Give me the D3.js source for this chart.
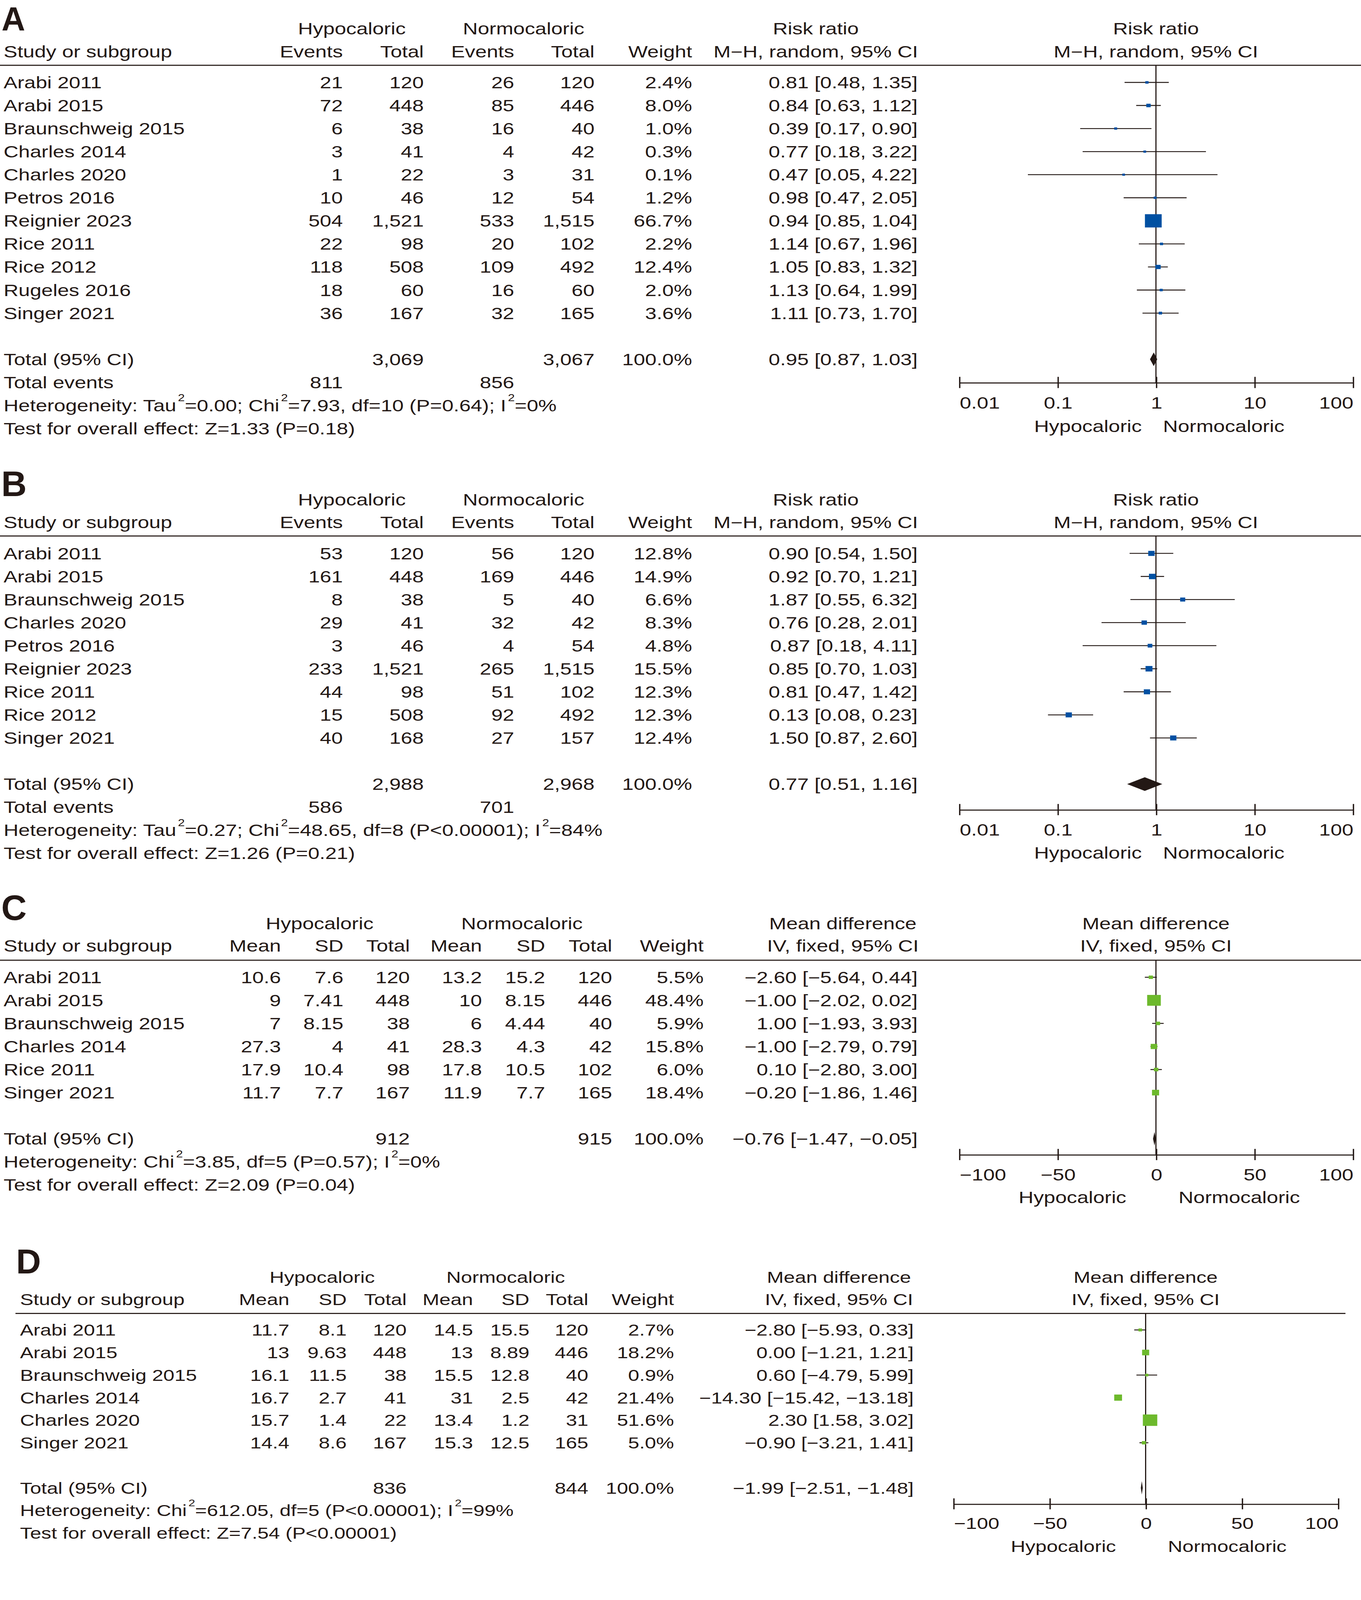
<!DOCTYPE html>
<html><head><meta charset="utf-8">
<script src="https://cdn.jsdelivr.net/npm/d3@7"></script>
<style>html,body{margin:0;padding:0;background:#fff;overflow:hidden}svg{display:block;width:100vw;height:100vh}</style>
</head><body>
<svg id="chart"></svg>
<script>
// ================= DATA =================
// Panel A – risk ratio
const studiesA = ["Arabi 2011","Arabi 2015","Braunschweig 2015","Charles 2014","Charles 2020","Petros 2016","Reignier 2023","Rice 2011","Rice 2012","Rugeles 2016","Singer 2021"];
const hypoEventsA = [21,72,6,3,1,10,504,22,118,18,36];
const hypoTotalA  = [120,448,38,41,22,46,1521,98,508,60,167];
const normoEventsA= [26,85,16,4,3,12,533,20,109,16,32];
const normoTotalA = [120,446,40,42,31,54,1515,102,492,60,165];
const weightA = [2.4,8.0,1.0,0.3,0.1,1.2,66.7,2.2,12.4,2.0,3.6];
const estA  = [0.81,0.84,0.39,0.77,0.47,0.98,0.94,1.14,1.05,1.13,1.11];
const lowA  = [0.48,0.63,0.17,0.18,0.05,0.47,0.85,0.67,0.83,0.64,0.73];
const highA = [1.35,1.12,0.90,3.22,4.22,2.05,1.04,1.96,1.32,1.99,1.70];
const totalsA = [3069,3067];
const totalEventsA = [811,856];
const pooledA = [0.95,0.87,1.03];
const hetA  = "Heterogeneity: Tau²=0.00; Chi²=7.93, df=10 (P=0.64); I²=0%";
const testA = "Test for overall effect: Z=1.33 (P=0.18)";

// Panel B – risk ratio
const studiesB = ["Arabi 2011","Arabi 2015","Braunschweig 2015","Charles 2020","Petros 2016","Reignier 2023","Rice 2011","Rice 2012","Singer 2021"];
const hypoEventsB = [53,161,8,29,3,233,44,15,40];
const hypoTotalB  = [120,448,38,41,46,1521,98,508,168];
const normoEventsB= [56,169,5,32,4,265,51,92,27];
const normoTotalB = [120,446,40,42,54,1515,102,492,157];
const weightB = [12.8,14.9,6.6,8.3,4.8,15.5,12.3,12.3,12.4];
const estB  = [0.90,0.92,1.87,0.76,0.87,0.85,0.81,0.13,1.50];
const lowB  = [0.54,0.70,0.55,0.28,0.18,0.70,0.47,0.08,0.87];
const highB = [1.50,1.21,6.32,2.01,4.11,1.03,1.42,0.23,2.60];
const totalsB = [2988,2968];
const totalEventsB = [586,701];
const pooledB = [0.77,0.51,1.16];
const hetB  = "Heterogeneity: Tau²=0.27; Chi²=48.65, df=8 (P<0.00001); I²=84%";
const testB = "Test for overall effect: Z=1.26 (P=0.21)";

// Panel C – mean difference
const studiesC = ["Arabi 2011","Arabi 2015","Braunschweig 2015","Charles 2014","Rice 2011","Singer 2021"];
const hypoMeanC = [10.6,9,7,27.3,17.9,11.7];
const hypoSdC   = [7.6,7.41,8.15,4,10.4,7.7];
const hypoTotalC= [120,448,38,41,98,167];
const normoMeanC= [13.2,10,6,28.3,17.8,11.9];
const normoSdC  = [15.2,8.15,4.44,4.3,10.5,7.7];
const normoTotalC=[120,446,40,42,102,165];
const weightC = [5.5,48.4,5.9,15.8,6.0,18.4];
const estC  = [-2.60,-1.00,1.00,-1.00,0.10,-0.20];
const lowC  = [-5.64,-2.02,-1.93,-2.79,-2.80,-1.86];
const highC = [0.44,0.02,3.93,0.79,3.00,1.46];
const totalsC = [912,915];
const pooledC = [-0.76,-1.47,-0.05];
const hetC  = "Heterogeneity: Chi²=3.85, df=5 (P=0.57); I²=0%";
const testC = "Test for overall effect: Z=2.09 (P=0.04)";

// Panel D – mean difference
const studiesD = ["Arabi 2011","Arabi 2015","Braunschweig 2015","Charles 2014","Charles 2020","Singer 2021"];
const hypoMeanD = [11.7,13,16.1,16.7,15.7,14.4];
const hypoSdD   = [8.1,9.63,11.5,2.7,1.4,8.6];
const hypoTotalD= [120,448,38,41,22,167];
const normoMeanD= [14.5,13,15.5,31,13.4,15.3];
const normoSdD  = [15.5,8.89,12.8,2.5,1.2,12.5];
const normoTotalD=[120,446,40,42,31,165];
const weightD = [2.7,18.2,0.9,21.4,51.6,5.0];
const estD  = [-2.80,0.00,0.60,-14.30,2.30,-0.90];
const lowD  = [-5.93,-1.21,-4.79,-15.42,1.58,-3.21];
const highD = [0.33,1.21,5.99,-13.18,3.02,1.41];
const totalsD = [836,844];
const pooledD = [-1.99,-2.51,-1.48];
const hetD  = "Heterogeneity: Chi²=612.05, df=5 (P<0.00001); I²=99%";
const testD = "Test for overall effect: Z=7.54 (P<0.00001)";

// Axis ticks
const ratioTicks = [0.01,0.1,1,10,100];
const ratioTickLabels = ["0.01","0.1","1","10","100"];
const mdTicks = [-100,-50,0,50,100];
const mdTickLabels = ["−100","−50","0","50","100"];

// ================= RENDER =================
const VW = 1056.06, VH = 1568.79;   // design units (reference / 3.3)
const INK = "#231815", BLUE = "#0050A2", GREEN = "#6DB92C";
const FONT = "'Liberation Sans', Arial, Helvetica, sans-serif";

const svg = d3.select("#chart")
  .attr("viewBox", `0 0 ${VW} ${VH}`)
  .attr("preserveAspectRatio", "none");
svg.append("rect").attr("width", VW).attr("height", VH).attr("fill", "#fff");

const fmtMinus = v => (v < 0 ? "−" : "") + Math.abs(v).toFixed(2);
const ciText = (e,l,h) => `${fmtMinus(e)} [${fmtMinus(l)}, ${fmtMinus(h)}]`;
const comma = d3.format(",");

function txt(g, x, y, s, anchor, fs) {
  return g.append("text").attr("x", x).attr("y", y).attr("dy", "0.36em")
    .attr("text-anchor", anchor || "start").attr("font-size", fs)
    .attr("font-family", FONT).attr("fill", INK).text(s);
}
function supText(g, x, y, s, fs) {
  const t = g.append("text").attr("x", x).attr("y", y).attr("dy", "0.36em")
    .attr("font-size", fs).attr("font-family", FONT).attr("fill", INK);
  const parts = s.split("²");
  parts.forEach((p, i) => {
    if (i > 0) {
      t.append("tspan").attr("font-size", fs * 0.6).attr("dy", -fs * 0.62).attr("dx", fs * 0.08).text("2");
      t.append("tspan").attr("dy", fs * 0.62).text(p);
    } else t.append("tspan").text(p);
  });
}

function drawPanel(c) {
  const g = svg.append("g");
  const fs = c.fs;
  // Panel letter
  g.append("text").attr("transform", `translate(${c.letterX},${c.letterY}) scale(0.78,1)`)
    .attr("font-size", c.letterSize).attr("font-weight", "bold").attr("font-family", FONT)
    .attr("fill", INK).text(c.letter);
  // Headers
  c.groupHeads.forEach(h => txt(g, h[1], c.h1, h[0], "middle", fs));
  txt(g, c.studyX, c.h2, "Study or subgroup", "start", fs);
  c.colHeads.forEach((h, i) => txt(g, c.cols[i], c.h2, h, "end", fs));
  txt(g, c.ciHeadX, c.h1, c.measure, "middle", fs);
  txt(g, c.ciHeadX, c.h2, c.method, "middle", fs);
  const xs = c.scale;
  const mid = xs(c.nullVal);
  txt(g, mid, c.h1, c.measure, "middle", fs);
  txt(g, mid, c.h2, c.method, "middle", fs);
  // rule
  g.append("line").attr("x1", c.ruleX0).attr("x2", c.ruleX1).attr("y1", c.rule).attr("y2", c.rule)
    .attr("stroke", INK).attr("stroke-width", 1.05);

  const rowY = i => c.row0 + i * c.step;
  c.rows.forEach((r, i) => {
    txt(g, c.studyX, rowY(i), r.name, "start", fs);
    r.cells.forEach((v, j) => txt(g, c.cols[j], rowY(i), v, "end", fs));
  });
  const n = c.rows.length;
  const totY = rowY(n - 1) + 2 * c.step;
  txt(g, c.studyX, totY, "Total (95% CI)", "start", fs);
  c.totalCells.forEach(tc => txt(g, c.cols[tc[0]], totY, tc[1], "end", fs));
  let y = totY + c.step;
  if (c.totalEvents) {
    txt(g, c.studyX, y, "Total events", "start", fs);
    txt(g, c.cols[0], y, String(c.totalEvents[0]), "end", fs);
    txt(g, c.cols[2], y, String(c.totalEvents[1]), "end", fs);
    y += c.step;
  }
  supText(g, c.studyX, y, c.het, fs);
  txt(g, c.studyX, y + c.step, c.test, "start", fs);

  // null line
  g.append("line").attr("x1", mid).attr("x2", mid).attr("y1", c.rule).attr("y2", c.axisY)
    .attr("stroke", INK).attr("stroke-width", 0.9);
  // CIs and squares
  const size = d3.scaleLinear().domain([0, d3.max(c.rows, r => r.w)]).range(c.sizeRange);
  c.rows.forEach((r, i) => {
    g.append("line").attr("x1", xs(r.lo)).attr("x2", xs(r.hi)).attr("y1", rowY(i)).attr("y2", rowY(i))
      .attr("stroke", INK).attr("stroke-width", 0.9);
  });
  c.rows.forEach((r, i) => {
    const s = size(r.w);
    g.append("rect").attr("x", xs(r.est) - s / 2).attr("y", rowY(i) - s / 2)
      .attr("width", s).attr("height", s).attr("fill", c.color);
  });
  // pooled diamond
  const dh = 6.7 * c.k;
  const p = c.pooled;
  g.append("path").attr("d", `M${xs(p[1])},${totY} L${xs(p[0])},${totY - dh} L${xs(p[2])},${totY} L${xs(p[0])},${totY + dh} Z`)
    .attr("fill", INK);

  // axis
  const ax = d3.axisBottom(xs).tickValues(c.ticks).tickFormat((d, i) => c.tickLabels[i])
    .tickSizeInner(5.5 * c.k).tickSizeOuter(0);
  const ag = g.append("g").attr("transform", `translate(0,${c.axisY})`).call(ax);
  ag.attr("font-family", null).attr("font-size", null);
  ag.select(".domain").attr("stroke", INK).attr("stroke-width", 1.05);
  ag.selectAll(".tick line").attr("y1", -5.5 * c.k).attr("stroke", INK).attr("stroke-width", 1.05);
  ag.selectAll(".tick text").attr("y", c.tickLabY - c.axisY).attr("dy", "0.36em")
    .attr("font-size", fs).attr("font-family", FONT).attr("fill", INK)
    .attr("text-anchor", (d, i) => i === 0 ? "start" : (i === c.ticks.length - 1 ? "end" : "middle"));
  // favours labels
  txt(g, mid - c.favGap[0], c.favY, "Hypocaloric", "end", fs);
  txt(g, mid + c.favGap[1], c.favY, "Normocaloric", "start", fs);
}

function binaryRows(names, he, ht, ne, nt, w, e, l, h) {
  return names.map((nm, i) => ({
    name: nm, w: w[i], est: e[i], lo: l[i], hi: h[i],
    cells: [String(he[i]), comma(ht[i]), String(ne[i]), comma(nt[i]), w[i].toFixed(1) + "%", ciText(e[i], l[i], h[i])]
  }));
}
function contRows(names, hm, hs, ht, nm2, ns, nt, w, e, l, h) {
  return names.map((nm, i) => ({
    name: nm, w: w[i], est: e[i], lo: l[i], hi: h[i],
    cells: [String(hm[i]), String(hs[i]), String(ht[i]), String(nm2[i]), String(ns[i]), String(nt[i]), w[i].toFixed(1) + "%", ciText(e[i], l[i], h[i])]
  }));
}

const logX = d3.scaleLog().domain([0.01, 100]).range([744.2, 1049.7]);
const mdX = d3.scaleLinear().domain([-100, 100]).range([744.2, 1049.7]);
const mdXD = d3.scaleLinear().domain([-100, 100]).range([739.7, 1038.2]);

const binCols = [266, 328.8, 399, 461.3, 537, 712];
const binHeads = ["Events", "Total", "Events", "Total", "Weight"];
const FS = 16.0;

// Panel A
drawPanel({
  letter: "A", letterX: 1.2, letterY: 29.8, letterSize: 32.5, k: 1, fs: FS,
  h1: 28, h2: 50.5, rule: 64, ruleX0: 0, ruleX1: VW, row0: 80.8, step: 22.62,
  studyX: 2.8, cols: binCols, colHeads: binHeads,
  groupHeads: [["Hypocaloric", 273], ["Normocaloric", 406.3]],
  ciHeadX: 633, measure: "Risk ratio", method: "M−H, random, 95% CI",
  rows: binaryRows(studiesA, hypoEventsA, hypoTotalA, normoEventsA, normoTotalA, weightA, estA, lowA, highA),
  totalCells: [[1, comma(totalsA[0])], [3, comma(totalsA[1])], [4, "100.0%"], [5, ciText(...pooledA)]],
  totalEvents: totalEventsA, pooled: pooledA, het: hetA, test: testA,
  scale: logX, nullVal: 1, ticks: ratioTicks, tickLabels: ratioTickLabels,
  axisY: 375, tickLabY: 394.7, favY: 417.7, favGap: [11, 5.5],
  sizeRange: [2.1, 13], color: BLUE
});
// Panel B
drawPanel({
  letter: "B", letterX: 1, letterY: 486.3, letterSize: 35, k: 1, fs: FS,
  h1: 489.8, h2: 512, rule: 525.5, ruleX0: 0, ruleX1: VW, row0: 542.6, step: 22.62,
  studyX: 2.8, cols: binCols, colHeads: binHeads,
  groupHeads: [["Hypocaloric", 273], ["Normocaloric", 406.3]],
  ciHeadX: 633, measure: "Risk ratio", method: "M−H, random, 95% CI",
  rows: binaryRows(studiesB, hypoEventsB, hypoTotalB, normoEventsB, normoTotalB, weightB, estB, lowB, highB),
  totalCells: [[1, comma(totalsB[0])], [3, comma(totalsB[1])], [4, "100.0%"], [5, ciText(...pooledB)]],
  totalEvents: totalEventsB, pooled: pooledB, het: hetB, test: testB,
  scale: logX, nullVal: 1, ticks: ratioTicks, tickLabels: ratioTickLabels,
  axisY: 793.8, tickLabY: 813.4, favY: 836, favGap: [11, 5.5],
  sizeRange: [2.85, 5.4], color: BLUE
});
// Panel C
drawPanel({
  letter: "C", letterX: 1, letterY: 902, letterSize: 35, k: 1, fs: FS,
  h1: 905.4, h2: 927.3, rule: 941.5, ruleX0: 0, ruleX1: VW, row0: 958.2, step: 22.62,
  studyX: 2.8, cols: [218, 266.5, 318, 374, 423, 475, 546, 712],
  colHeads: ["Mean", "SD", "Total", "Mean", "SD", "Total", "Weight"],
  groupHeads: [["Hypocaloric", 248], ["Normocaloric", 405]],
  ciHeadX: 654, measure: "Mean difference", method: "IV, fixed, 95% CI",
  rows: contRows(studiesC, hypoMeanC, hypoSdC, hypoTotalC, normoMeanC, normoSdC, normoTotalC, weightC, estC, lowC, highC),
  totalCells: [[2, String(totalsC[0])], [5, String(totalsC[1])], [6, "100.0%"], [7, ciText(...pooledC)]],
  totalEvents: null, pooled: pooledC, het: hetC, test: testC,
  scale: mdX, nullVal: 0, ticks: mdTicks, tickLabels: mdTickLabels,
  axisY: 1132, tickLabY: 1151.6, favY: 1174, favGap: [23, 17.5],
  sizeRange: [2.4, 10.6], color: GREEN
});
// Panel D
drawPanel({
  letter: "D", letterX: 12.5, letterY: 1248.5, letterSize: 34.2, k: 0.977, fs: FS * 0.977,
  h1: 1252.3, h2: 1274.1, rule: 1287.8, ruleX0: 12, ruleX1: 1044, row0: 1304, step: 22.12,
  studyX: 15.5, cols: [224.5, 269, 315.5, 367, 410.8, 456.5, 523, 709],
  colHeads: ["Mean", "SD", "Total", "Mean", "SD", "Total", "Weight"],
  groupHeads: [["Hypocaloric", 250], ["Normocaloric", 392.4]],
  ciHeadX: 651, measure: "Mean difference", method: "IV, fixed, 95% CI",
  rows: contRows(studiesD, hypoMeanD, hypoSdD, hypoTotalD, normoMeanD, normoSdD, normoTotalD, weightD, estD, lowD, highD),
  totalCells: [[2, String(totalsD[0])], [5, String(totalsD[1])], [6, "100.0%"], [7, ciText(...pooledD)]],
  totalEvents: null, pooled: pooledD, het: hetD, test: testD,
  scale: mdXD, nullVal: 0, ticks: mdTicks, tickLabels: mdTickLabels,
  axisY: 1474.5, tickLabY: 1493.5, favY: 1516, favGap: [23, 17.3],
  sizeRange: [2.4, 11.2], color: GREEN
});
</script>
</body></html>
